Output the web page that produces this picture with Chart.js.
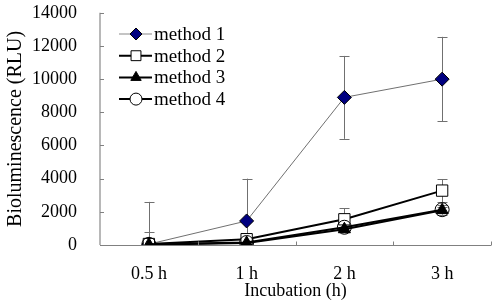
<!DOCTYPE html>
<html>
<head>
<meta charset="utf-8">
<script src="https://cdn.jsdelivr.net/npm/chart.js@4/dist/chart.umd.min.js"></script>
<style>
  html, body { margin: 0; padding: 0; background: #fff; }
  #wrap { width: 500px; height: 304px; position: relative; }
</style>
</head>
<body>
<div id="wrap"><canvas id="chart"></canvas></div>
<script>
const labels = ['0.5 h', '1 h', '2 h', '3 h'];
const method1 = [50, 1450, 8900, 10000];
const method1Err = [2550, 2550, 2500, 2550];
const method2 = [60, 350, 1550, 3280];
const method2Err = [700, 300, 680, 700];
const method3 = [20, 120, 950, 2100];
const method3Err = [50, 100, 150, 200];
const method4 = [40, 150, 1070, 2130];
const method4Err = [80, 150, 250, 300];
const yTicks = [0, 2000, 4000, 6000, 8000, 10000, 12000, 14000];

const FONT = '"Liberation Serif", "Times New Roman", serif';

const series = [
    { label: 'method 1', data: method1, err: method1Err, style: 'rectRot', radius: 7, fill: '#000080', line: '#707070', lineWidth: 1, legendLine: '#b0b0b0' },
    { label: 'method 2', data: method2, err: method2Err, style: 'rect', radius: 8, fill: '#ffffff', line: '#000000', lineWidth: 2, legendLine: '#000000' },
    { label: 'method 3', data: method3, err: method3Err, style: 'triangle', radius: 7, fill: '#000000', line: '#000000', lineWidth: 2, legendLine: '#000000' },
    { label: 'method 4', data: method4, err: method4Err, style: 'circle', radius: 7, fill: 'rgba(255,255,255,0)', line: '#000000', lineWidth: 2, legendLine: '#000000' }
];

// error bars drawn behind the markers
const errorBars = {
    id: 'errorBars',
    beforeDatasetsDraw(chart) {
        const { ctx, chartArea, scales: { x, y } } = chart;
        ctx.save();
        ctx.beginPath();
        ctx.rect(chartArea.left, chartArea.top, chartArea.right - chartArea.left, chartArea.bottom - chartArea.top);
        ctx.clip();
        ctx.strokeStyle = '#707070';
        ctx.lineWidth = 1;
        series.forEach(s => {
            s.data.forEach((v, i) => {
                const px = Math.round(x.getPixelForValue(i)) + 0.5;
                const top = y.getPixelForValue(v + s.err[i]);
                const bot = y.getPixelForValue(v - s.err[i]);
                ctx.beginPath();
                ctx.moveTo(px, top); ctx.lineTo(px, bot);
                ctx.moveTo(px - 5, Math.round(top) + 0.5); ctx.lineTo(px + 5, Math.round(top) + 0.5);
                ctx.moveTo(px - 5, Math.round(bot) + 0.5); ctx.lineTo(px + 5, Math.round(bot) + 0.5);
                ctx.stroke();
            });
        });
        ctx.restore();
    }
};

// axis lines with inner tick marks
const axesPlugin = {
    id: 'axesPlugin',
    afterDraw(chart) {
        const { ctx, chartArea, scales: { x, y } } = chart;
        ctx.save();
        ctx.strokeStyle = '#b8b8b8';
        ctx.lineWidth = 2;
        ctx.beginPath();
        ctx.moveTo(chartArea.left, chartArea.top);
        ctx.lineTo(chartArea.left, chartArea.bottom);
        ctx.stroke();
        ctx.strokeStyle = '#808080';
        ctx.lineWidth = 1;
        ctx.beginPath();
        const yb = Math.round(chartArea.bottom) + 0.5;
        ctx.moveTo(chartArea.left, yb);
        ctx.lineTo(chartArea.right, yb);
        yTicks.forEach(t => {
            const py = Math.round(y.getPixelForValue(t)) + 0.5;
            ctx.moveTo(chartArea.left, py);
            ctx.lineTo(chartArea.left + 4, py);
        });
        for (let i = 0; i < labels.length; i++) {
            const px = Math.round((x.getPixelForValue(i) + x.getPixelForValue(i + 1)) / 2) + 0.5;
            ctx.moveTo(px, yb);
            ctx.lineTo(px, yb - 4);
        }
        ctx.stroke();
        ctx.restore();
    }
};

// legend inside the plot, upper left
const innerLegend = {
    id: 'innerLegend',
    afterDraw(chart) {
        const { ctx } = chart;
        ctx.save();
        ctx.font = '19px ' + FONT;
        ctx.textBaseline = 'middle';
        ctx.textAlign = 'left';
        series.forEach((s, i) => {
            const cy = 34 + i * 21.7;
            ctx.strokeStyle = s.legendLine;
            ctx.lineWidth = s.lineWidth === 1 ? 1.5 : 2;
            ctx.beginPath();
            ctx.moveTo(119, cy);
            ctx.lineTo(152, cy);
            ctx.stroke();
            ctx.fillStyle = s.style === 'circle' ? '#ffffff' : s.fill;
            ctx.strokeStyle = '#000000';
            ctx.lineWidth = 1;
            Chart.helpers.drawPoint(ctx, { pointStyle: s.style, radius: s.radius - 1, rotation: 0, borderWidth: 1 }, 136, cy);
            ctx.fillStyle = '#000000';
            ctx.fillText(s.label, 154, cy + 1);
        });
        ctx.restore();
    }
};

const ctx = document.getElementById('chart').getContext('2d');
new Chart(ctx, {
    type: 'line',
    data: {
        labels: labels,
        datasets: series.map(s => ({
            label: s.label,
            data: s.data,
            borderColor: s.line,
            borderWidth: s.lineWidth,
            pointStyle: s.style,
            pointRadius: s.radius,
            pointBackgroundColor: s.fill,
            pointBorderColor: '#000000',
            pointBorderWidth: 1,
            fill: false,
            tension: 0
        })).reverse()
    },
    options: {
        responsive: true,
        maintainAspectRatio: false,
        animation: false,
        layout: { padding: { top: 10, right: 3, left: 0, bottom: 0 } },
        plugins: {
            legend: { display: false },
            tooltip: { enabled: false }
        },
        scales: {
            x: {
                offset: true,
                grid: { display: true, drawOnChartArea: false, drawTicks: true, tickLength: 16, color: 'rgba(0,0,0,0)' },
                border: { display: false },
                ticks: { color: '#000', font: { family: FONT, size: 18 }, padding: 2 },
                title: { display: true, text: 'Incubation (h)', color: '#000', font: { family: FONT, size: 18 }, padding: { top: 0, bottom: 2 } },
                afterFit(scale) { scale.height = 59; }
            },
            y: {
                min: 0,
                max: 14000,
                afterBuildTicks(scale) { scale.ticks = yTicks.map(v => ({ value: v })); },
                grid: { display: true, drawOnChartArea: false, drawTicks: true, tickLength: 21, color: 'rgba(0,0,0,0)' },
                border: { display: false },
                ticks: { color: '#000', font: { family: FONT, size: 18 }, padding: 2, callback: v => String(v) },
                title: { display: true, text: 'Bioluminescence (RLU)', color: '#000', font: { family: FONT, size: 20 }, padding: { top: 4, bottom: 0 } },
                afterFit(scale) { scale.width = 100; }
            }
        }
    },
    plugins: [errorBars, axesPlugin, innerLegend]
});
</script>
</body>
</html>
